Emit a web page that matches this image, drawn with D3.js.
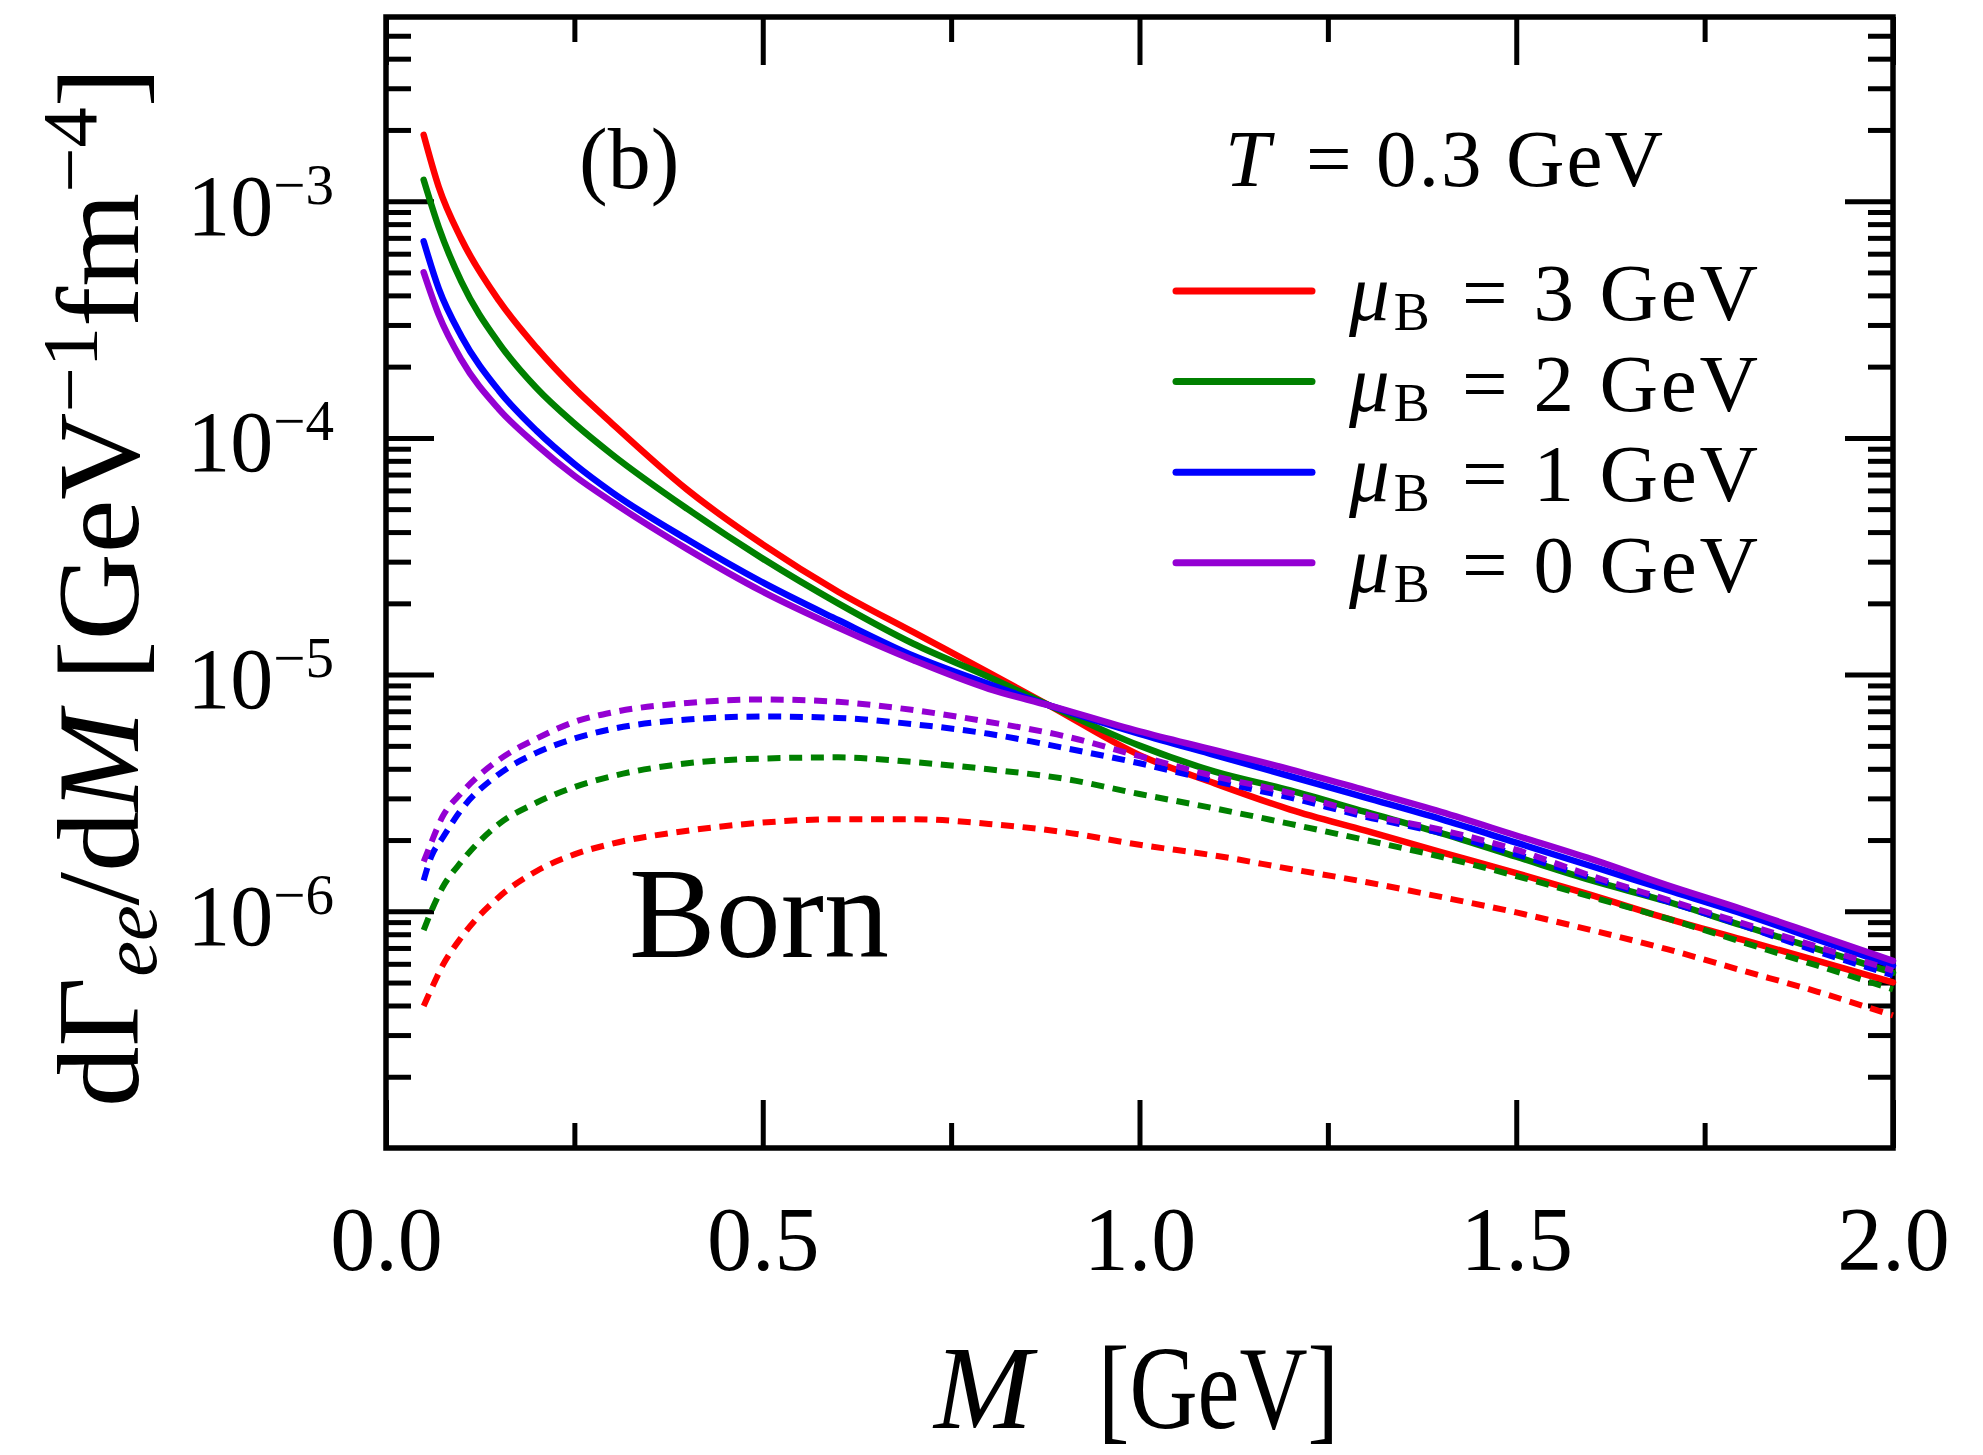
<!DOCTYPE html>
<html><head><meta charset="utf-8">
<script src="https://cdn.jsdelivr.net/npm/d3@7"></script>
<style>
body{margin:0;background:#fff;}
svg{display:block;background:#fff;}
text{font-family:"Liberation Serif","Times New Roman",serif;fill:#000;}
</style></head><body>
<svg id="chart" width="1983" height="1455"></svg>
<script>
// ---- data (M in GeV, rate in GeV^-1 fm^-4) ----
const massGrid = [0.05,0.07,0.1,0.15,0.2,0.25,0.3,0.4,0.5,0.6,0.7,0.8,0.88,1.0,1.1,1.2,1.3,1.4,1.5,1.6,1.7,1.8,1.9,2.0];
const solidMuB3 = [1.905e-3,1.148e-3,6.92e-4,3.80e-4,2.40e-4,1.62e-4,1.15e-4,6.03e-5,3.55e-5,2.24e-5,1.51e-5,1.02e-5,7.41e-6,4.57e-6,3.47e-6,2.69e-6,2.19e-6,1.78e-6,1.45e-6,1.17e-6,9.33e-7,7.59e-7,6.17e-7,5.01e-7];
const solidMuB2 = [1.23e-3,7.76e-4,4.57e-4,2.51e-4,1.62e-4,1.15e-4,8.51e-5,5.01e-5,3.09e-5,2.00e-5,1.35e-5,9.77e-6,7.41e-6,5.01e-6,3.89e-6,3.24e-6,2.63e-6,2.14e-6,1.70e-6,1.35e-6,1.10e-6,8.71e-7,6.92e-7,5.50e-7];
const solidMuB1 = [6.76e-4,4.27e-4,2.69e-4,1.58e-4,1.07e-4,7.76e-5,5.89e-5,3.72e-5,2.45e-5,1.70e-5,1.20e-5,9.12e-6,7.41e-6,5.62e-6,4.57e-6,3.72e-6,3.02e-6,2.45e-6,1.95e-6,1.55e-6,1.23e-6,9.77e-7,7.59e-7,5.89e-7];
const solidMuB0 = [5.01e-4,3.31e-4,2.14e-4,1.32e-4,9.33e-5,6.92e-5,5.37e-5,3.39e-5,2.24e-5,1.58e-5,1.15e-5,8.71e-6,7.41e-6,5.75e-6,4.79e-6,3.98e-6,3.24e-6,2.63e-6,2.09e-6,1.66e-6,1.29e-6,1.02e-6,7.94e-7,6.17e-7];

const bornGrid = [0.05,0.06,0.075,0.1,0.15,0.2,0.25,0.3,0.4,0.5,0.6,0.7,0.8,0.9,1.0,1.1,1.2,1.3,1.4,1.5,1.6,1.7,1.8,1.9,2.0];
const dashedMuB3 = [3.98e-7,4.68e-7,5.89e-7,7.76e-7,1.15e-6,1.48e-6,1.74e-6,1.93e-6,2.19e-6,2.37e-6,2.45e-6,2.45e-6,2.34e-6,2.16e-6,1.91e-6,1.72e-6,1.51e-6,1.33e-6,1.15e-6,9.89e-7,8.32e-7,6.92e-7,5.62e-7,4.57e-7,3.63e-7];
const dashedMuB2 = [8.32e-7,1.00e-6,1.26e-6,1.62e-6,2.34e-6,2.88e-6,3.35e-6,3.72e-6,4.22e-6,4.42e-6,4.47e-6,4.27e-6,3.98e-6,3.63e-6,3.13e-6,2.72e-6,2.34e-6,2.00e-6,1.70e-6,1.41e-6,1.15e-6,9.33e-7,7.41e-7,5.89e-7,4.68e-7];
const dashedMuB1 = [1.35e-6,1.70e-6,2.04e-6,2.69e-6,3.80e-6,4.68e-6,5.37e-6,5.89e-6,6.46e-6,6.65e-6,6.56e-6,6.17e-6,5.62e-6,4.90e-6,4.22e-6,3.55e-6,3.02e-6,2.51e-6,2.14e-6,1.74e-6,1.38e-6,1.10e-6,8.71e-7,6.76e-7,5.37e-7];
const dashedMuB0 = [1.62e-6,1.95e-6,2.51e-6,3.16e-6,4.37e-6,5.37e-6,6.31e-6,6.92e-6,7.59e-6,7.85e-6,7.67e-6,7.08e-6,6.31e-6,5.50e-6,4.52e-6,3.72e-6,3.16e-6,2.57e-6,2.21e-6,1.82e-6,1.41e-6,1.12e-6,8.91e-7,7.08e-7,5.62e-7];

const muBValues = ["3","2","1","0"];
const seriesColors = ["#ff0000","#008000","#0000ff","#9400d3"];
const xTickValues = [0,0.5,1,1.5,2];
const xTickLabels = ["0.0","0.5","1.0","1.5","2.0"];
const xMinorTicks = [0.25,0.75,1.25,1.75];
const yTickValues = [1e-6,1e-5,1e-4,1e-3];
const yTickExponents = ["−6","−5","−4","−3"];

// ---- layout ----
const L = 386, R = 1893, T = 17, B = 1148;
const svg = d3.select("#chart");
const x = d3.scaleLinear().domain([0,2]).range([L,R]);
const y = d3.scaleLog().domain([1e-7,6e-3]).range([B,T]);

const majorLen = 48, minorLen = 25;
const yMinor = y.ticks().filter(v => !yTickValues.some(m => Math.abs(m - v)/m < 1e-6) && v > 1e-7*1.001 && v < 6e-3*0.999);

function styleAxis(g){
  g.select(".domain").remove();
  g.selectAll(".tick line").attr("stroke","#000").attr("stroke-width",5);
}

// bottom
svg.append("g").attr("transform",`translate(0,${B})`)
  .call(d3.axisBottom(x).tickValues(xTickValues).tickSize(-majorLen).tickSizeOuter(0).tickPadding(58).tickFormat((d,i)=>xTickLabels[i]))
  .call(styleAxis)
  .call(g=>g.selectAll("text").style("font-size","90px").style("font-family",'"Liberation Serif",serif').attr("fill","#000"));
svg.append("g").attr("transform",`translate(0,${B})`)
  .call(d3.axisBottom(x).tickValues(xMinorTicks).tickSize(-minorLen).tickSizeOuter(0).tickFormat(""))
  .call(styleAxis);
// top
svg.append("g").attr("transform",`translate(0,${T})`)
  .call(d3.axisTop(x).tickValues(xTickValues).tickSize(-majorLen).tickSizeOuter(0).tickFormat(""))
  .call(styleAxis);
svg.append("g").attr("transform",`translate(0,${T})`)
  .call(d3.axisTop(x).tickValues(xMinorTicks).tickSize(-minorLen).tickSizeOuter(0).tickFormat(""))
  .call(styleAxis);
// left
svg.append("g").attr("transform",`translate(${L},0)`)
  .call(d3.axisLeft(y).tickValues(yTickValues).tickSize(-majorLen).tickSizeOuter(0).tickPadding(52).tickFormat(()=>""))
  .call(styleAxis)
  .call(g=>g.selectAll(".tick text").each(function(d,i){
      const t = d3.select(this).attr("dy",null).attr("y",33).style("font-family",'"Liberation Serif",serif');
      t.text(null);
      t.append("tspan").style("font-size","86px").text("10");
      t.append("tspan").style("font-size","57px").attr("dy",-31).text(yTickExponents[i]);
  }));
svg.append("g").attr("transform",`translate(${L},0)`)
  .call(d3.axisLeft(y).tickValues(yMinor).tickSize(-minorLen).tickSizeOuter(0).tickFormat(""))
  .call(styleAxis);
// right
svg.append("g").attr("transform",`translate(${R},0)`)
  .call(d3.axisRight(y).tickValues(yTickValues).tickSize(-majorLen).tickSizeOuter(0).tickFormat(""))
  .call(styleAxis);
svg.append("g").attr("transform",`translate(${R},0)`)
  .call(d3.axisRight(y).tickValues(yMinor).tickSize(-minorLen).tickSizeOuter(0).tickFormat(""))
  .call(styleAxis);

// frame
svg.append("rect").attr("x",L).attr("y",T).attr("width",R-L).attr("height",B-T)
  .attr("fill","none").attr("stroke","#000").attr("stroke-width",5.5);

// curves
const line = d3.line().x(d=>x(d[0])).y(d=>y(d[1])).curve(d3.curveMonotoneX);
const solids = [solidMuB3, solidMuB2, solidMuB1, solidMuB0];
const dashes = [dashedMuB3, dashedMuB2, dashedMuB1, dashedMuB0];
const gCurves = svg.append("g");
solids.forEach((s,i)=>{
  gCurves.append("path").attr("d", line(massGrid.map((m,j)=>[m,s[j]])))
    .attr("fill","none").attr("stroke",seriesColors[i]).attr("stroke-width",6.5)
    .attr("stroke-linecap","round").attr("stroke-linejoin","round");
});
dashes.forEach((s,i)=>{
  gCurves.append("path").attr("d", line(bornGrid.map((m,j)=>[m,s[j]])))
    .attr("fill","none").attr("stroke",seriesColors[i]).attr("stroke-width",6)
    .attr("stroke-dasharray","13,8.7");
});

// legend
const legX0 = 1176, legX1 = 1312, legY0 = 291, legDY = 90.6;
muBValues.forEach((v,i)=>{
  const yy = legY0 + i*legDY;
  svg.append("line").attr("x1",legX0).attr("x2",legX1).attr("y1",yy).attr("y2",yy)
    .attr("stroke",seriesColors[i]).attr("stroke-width",7).attr("stroke-linecap","round");
  const t = svg.append("text").attr("x",1349).attr("y",yy+29).style("font-size","81px");
  t.append("tspan").style("font-style","italic").text("μ");
  t.append("tspan").style("font-size","54px").attr("dx",4).attr("dy",10).text("B");
  svg.append("text").attr("x",1462).attr("y",yy+29).style("font-size","81px")
    .attr("textLength",296).attr("lengthAdjust","spacing").text(`= ${v} GeV`);
});

// annotations
svg.append("text").attr("x",1225).attr("y",186).style("font-size","81px").style("font-style","italic").text("T");
svg.append("text").attr("x",1306).attr("y",186).style("font-size","81px")
  .attr("textLength",357).attr("lengthAdjust","spacing").text("= 0.3 GeV");
svg.append("text").attr("x",579).attr("y",188).style("font-size","86px").text("(b)");
svg.append("text").attr("x",629).attr("y",957).style("font-size","130px").text("Born");

// x title
svg.append("text").attr("x",934).attr("y",1428).style("font-size","118px").style("font-style","italic").text("M");
svg.append("text").attr("x",1098).attr("y",1428).style("font-size","118px")
  .attr("textLength",241).attr("lengthAdjust","spacingAndGlyphs").text("[GeV]");

// y title
const yt = svg.append("text").attr("transform","translate(138,587) rotate(-90)")
  .attr("text-anchor","middle").style("font-size","117px")
  .attr("textLength",1040).attr("lengthAdjust","spacingAndGlyphs");
yt.append("tspan").text("dΓ");
yt.append("tspan").style("font-size","78px").style("font-style","italic").attr("dy",18).text("ee");
yt.append("tspan").attr("dy",-18).text("/d");
yt.append("tspan").style("font-style","italic").text("M");
yt.append("tspan").text(" [GeV");
yt.append("tspan").style("font-size","78px").attr("dy",-42).text("−1");
yt.append("tspan").attr("dy",42).text("fm");
yt.append("tspan").style("font-size","78px").attr("dy",-42).text("−4");
yt.append("tspan").attr("dy",42).text("]");
</script>
</body></html>
